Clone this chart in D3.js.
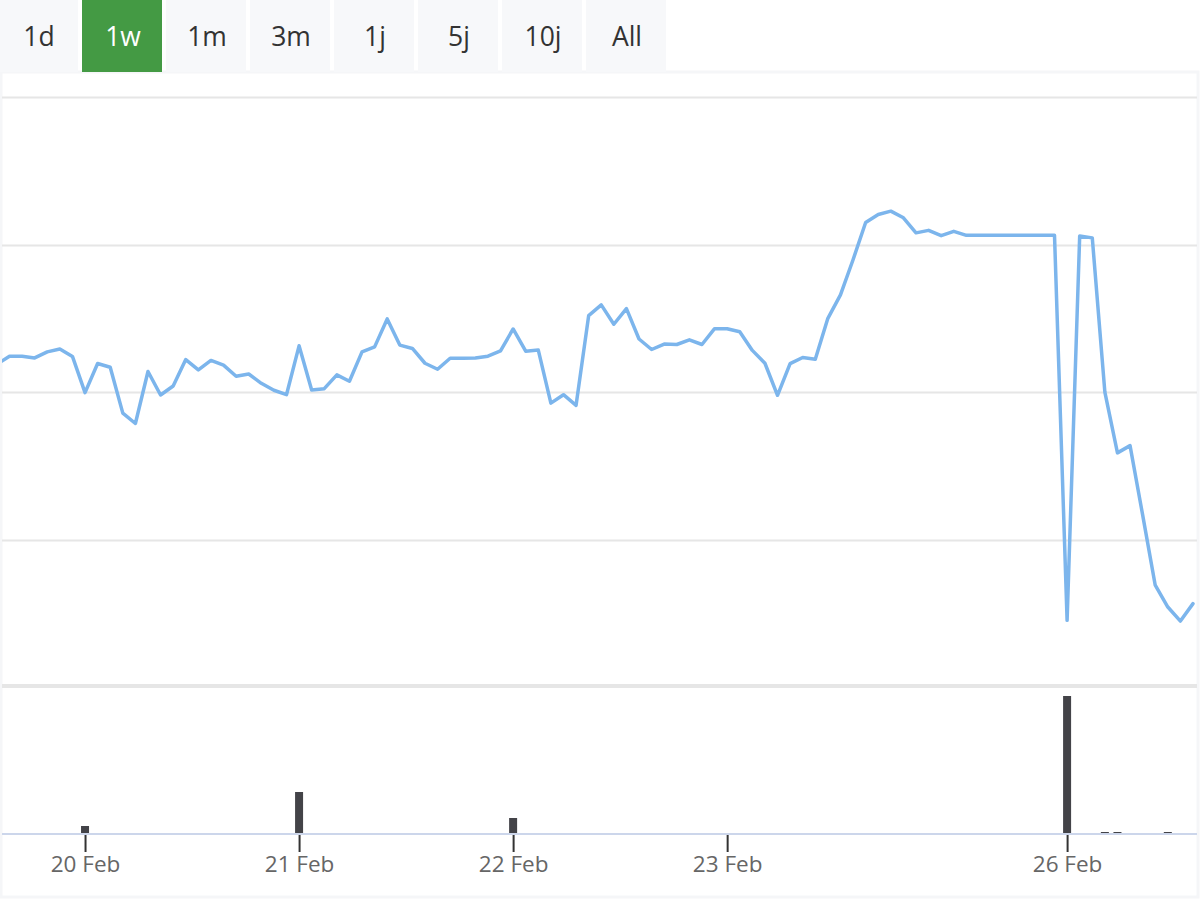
<!DOCTYPE html>
<html>
<head>
<meta charset="utf-8">
<script src="https://cdn.jsdelivr.net/npm/d3@7"></script>
<style>
  html, body { margin: 0; padding: 0; background: #fff; }
  svg { display: block; font-family: "Open Sans", "DejaVu Sans", sans-serif; }
</style>
</head>
<body>
<svg id="chart"></svg>
<script>
const rangeButtons = ["1d", "1w", "1m", "3m", "1j", "5j", "10j", "All"];
const selectedButton = "1w";

// price per point (ordinal axis, one entry per data point)
const priceValues = [
  11.19, 11.245, 11.245, 11.233, 11.274, 11.293, 11.243, 10.998, 11.195, 11.17,
  10.859, 10.789, 11.141, 10.982, 11.043, 11.222, 11.152, 11.216, 11.184, 11.109,
  11.124, 11.061, 11.014, 10.984, 11.315, 11.016, 11.025, 11.118, 11.075, 11.274,
  11.308, 11.497, 11.32, 11.297, 11.197, 11.156, 11.231, 11.231, 11.233, 11.245,
  11.281, 11.429, 11.279, 11.286, 10.927, 10.984, 10.912, 11.519, 11.592, 11.461,
  11.567, 11.361, 11.29, 11.327, 11.324, 11.356, 11.324, 11.431, 11.431, 11.41,
  11.284, 11.197, 10.98, 11.194, 11.236, 11.224, 11.501, 11.66, 11.898, 12.15,
  12.204, 12.227, 12.182, 12.08, 12.097, 12.061, 12.09, 12.063, 12.063, 12.063,
  12.063, 12.063, 12.063, 12.063, 12.063, 9.456, 12.059, 12.046, 11.002, 10.59,
  10.639, 10.17, 9.694, 9.546, 9.451, 9.569
];

const volumeIndex = [7, 24, 41, 85, 88, 89, 93];
const volumeValues = [8, 42, 16, 138, 2, 2, 2];

const tickIndex = [7, 24, 41, 58, 85];
const tickLabels = ["20 Feb", "21 Feb", "22 Feb", "23 Feb", "26 Feb"];

const gridValues = [10, 11, 12, 13];

const width = 1200, height = 900;
const svg = d3.select("#chart").attr("width", width).attr("height", height);

// ----------------------- frame
svg.append("rect")
  .attr("x", 1).attr("y", 72).attr("width", 1197).attr("height", 825)
  .attr("fill", "#fff").attr("stroke", "#f5f6f8").attr("stroke-width", 3);

// ----------------------- range selector
svg.selectAll(".btn")
  .data(rangeButtons)
  .join("rect")
  .attr("class", "btn")
  .attr("x", (_, i) => i * 84 - 2)
  .attr("y", 0)
  .attr("width", 80)
  .attr("height", 72)
  .attr("fill", d => d === selectedButton ? "#449a44" : "#f7f8fa");

svg.selectAll(".btnLabel")
  .data(rangeButtons)
  .join("text")
  .attr("class", "btnLabel")
  .attr("x", (_, i) => i * 84 + 39)
  .attr("y", 46)
  .attr("text-anchor", "middle")
  .attr("font-size", 26.5)
  .attr("fill", d => d === selectedButton ? "#fff" : "#333")
  .text(d => d);

// ----------------------- scales
const x = d3.scaleLinear().domain([0, priceValues.length - 1]).range([-3.1, 1193]);
const y = d3.scaleLinear().domain([10, 13]).range([540, 97]);
const yVol = d3.scaleLinear().domain([0, 138]).range([834, 696]);

svg.append("clipPath").attr("id", "plotClip")
  .append("rect").attr("x", 2).attr("y", 72).attr("width", 1195).attr("height", 612);

// ----------------------- grid
svg.selectAll(".grid")
  .data(gridValues)
  .join("line")
  .attr("class", "grid")
  .attr("x1", 2).attr("x2", 1197)
  .attr("y1", d => Math.round(y(d)) + 0.5)
  .attr("y2", d => Math.round(y(d)) + 0.5)
  .attr("stroke", "#e6e6e6")
  .attr("stroke-width", 2);

// pane separator
svg.append("rect")
  .attr("x", 2).attr("y", 684).attr("width", 1195).attr("height", 4)
  .attr("fill", "#e6e6e6");

// ----------------------- price line
const line = d3.line()
  .x((_, i) => x(i))
  .y(d => y(d));

svg.append("path")
  .datum(priceValues)
  .attr("clip-path", "url(#plotClip)")
  .attr("d", line)
  .attr("fill", "none")
  .attr("stroke", "#7cb5ec")
  .attr("stroke-width", 3.5)
  .attr("stroke-linejoin", "round")
  .attr("stroke-linecap", "round");

// ----------------------- volume
svg.selectAll(".vol")
  .data(volumeValues)
  .join("rect")
  .attr("class", "vol")
  .attr("x", (_, i) => x(volumeIndex[i]) - 4)
  .attr("y", d => yVol(d))
  .attr("width", 8)
  .attr("height", d => yVol(0) - yVol(d))
  .attr("fill", "#434348");

// ----------------------- x axis
const xAxis = d3.axisBottom(x)
  .tickValues(tickIndex)
  .tickFormat((_, i) => tickLabels[i])
  .tickSize(17)
  .tickPadding(4);

const axisG = svg.append("g")
  .attr("transform", "translate(0,835)")
  .call(xAxis);

axisG.select(".domain").remove();
axisG.selectAll(".tick line").attr("stroke", "#333").attr("stroke-width", 2);
axisG.selectAll(".tick text")
  .attr("font-size", 22.5)
  .attr("fill", "#666")
  .attr("font-family", "\"Open Sans\", \"DejaVu Sans\", sans-serif");

svg.append("line")
  .attr("x1", 2).attr("x2", 1197)
  .attr("y1", 834).attr("y2", 834)
  .attr("stroke", "#ccd6eb")
  .attr("stroke-width", 2);
</script>
</body>
</html>
